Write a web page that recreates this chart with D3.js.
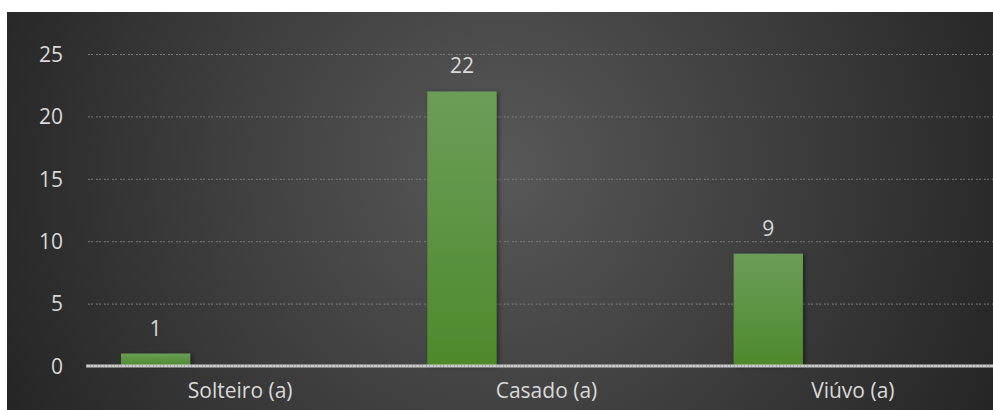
<!DOCTYPE html>
<html><head><meta charset="utf-8">
<script src="https://cdn.jsdelivr.net/npm/d3@7"></script>
<style>html,body{margin:0;padding:0;background:#fff;}svg{display:block;}</style>
</head><body>
<script>
const categories = ["Solteiro (a)", "Casado (a)", "Viúvo (a)"];
const values = [1, 22, 9];
const yTicks = [0, 5, 10, 15, 20, 25];

const W = 993, H = 410;
const svg = d3.select("body").append("svg").attr("width", W).attr("height", H);
const defs = svg.append("defs");

const rg = defs.append("radialGradient").attr("id", "bg")
  .attr("gradientUnits", "userSpaceOnUse")
  .attr("cx", 500).attr("cy", 170).attr("r", 580);
rg.append("stop").attr("offset", "0").attr("stop-color", "#585858");
rg.append("stop").attr("offset", "1").attr("stop-color", "#222222");

const lg = defs.append("linearGradient").attr("id", "bar")
  .attr("x1", 0).attr("y1", 0).attr("x2", 0).attr("y2", 1);
lg.append("stop").attr("offset", "0").attr("stop-color", "#6c9d58");
lg.append("stop").attr("offset", "1").attr("stop-color", "#4d8a2b");

const f = defs.append("filter").attr("id", "sh").attr("x", "-20%").attr("y", "-20%").attr("width", "140%").attr("height", "140%");
f.append("feDropShadow").attr("dx", 2).attr("dy", 1).attr("stdDeviation", 2)
  .attr("flood-color", "#000").attr("flood-opacity", 0.45);

svg.append("rect").attr("x", 7).attr("y", 12).attr("width", W - 7).attr("height", H - 12)
  .attr("fill", "url(#bg)");

const x0 = 87, x1 = 1006, yTop = 54, yBot = 366;
const x = d3.scaleBand().domain(categories).range([x0, x1]).padding(0);
const y = d3.scaleLinear().domain([0, 25]).range([yBot, yTop]);

const font = "'Open Sans', 'Noto Sans', sans-serif";
const txt = "#d9d9d9";

// gridlines
svg.append("g").selectAll("line").data(yTicks.filter(d => d > 0)).join("line")
  .attr("x1", 88).attr("x2", W)
  .attr("y1", d => y(d) + 0.5).attr("y2", d => y(d) + 0.5)
  .attr("stroke", "#7c7c7c").attr("stroke-width", 1)
  .attr("stroke-dasharray", "2,1,2,3");

// y axis labels
const yAxis = d3.axisLeft(y).tickValues(yTicks).tickSize(0).tickPadding(0);
const gy = svg.append("g").attr("transform", "translate(63,0)").call(yAxis);
gy.select(".domain").remove();
gy.selectAll("text").attr("fill", txt).style("font-family", font).style("font-size", "21px")
  .attr("dy", "0.35em");

// bars
svg.append("g").selectAll("rect").data(values).join("rect")
  .attr("x", (d, i) => x(categories[i]) + x.bandwidth() * 0.111)
  .attr("width", x.bandwidth() * 0.226)
  .attr("y", d => y(d))
  .attr("height", d => y(0) - y(d))
  .attr("fill", "url(#bar)")
  .attr("filter", "url(#sh)");

// baseline
svg.append("line").attr("x1", 86).attr("x2", W).attr("y1", yBot).attr("y2", yBot)
  .attr("stroke", "#c9c9c9").attr("stroke-width", 3);
svg.append("line").attr("x1", 86).attr("x2", W).attr("y1", yBot).attr("y2", yBot)
  .attr("stroke", "#8a8a8a").attr("stroke-width", 1).attr("stroke-dasharray", "1,3,1,2");

// value labels
svg.append("g").selectAll("text").data(values).join("text")
  .attr("x", (d, i) => x(categories[i]) + x.bandwidth() * (0.111 + 0.113))
  .attr("y", d => y(d) - 18)
  .attr("text-anchor", "middle")
  .attr("fill", txt).style("font-family", font).style("font-size", "21px")
  .text(d => d);

// x axis labels
const xAxis = d3.axisBottom(x).tickSize(0).tickPadding(0);
const gx = svg.append("g").attr("transform", "translate(0,383)").call(xAxis);
gx.select(".domain").remove();
gx.selectAll("text").attr("fill", txt).style("font-family", font).style("font-size", "21px")
  .attr("dy", "0.71em");
</script>
</body></html>
